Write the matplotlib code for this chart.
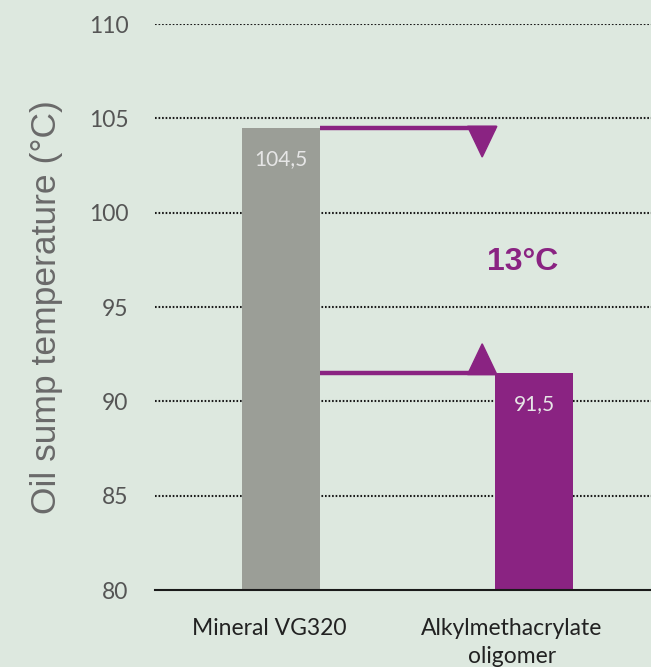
import matplotlib
matplotlib.use("Agg")
import matplotlib.pyplot as plt
from matplotlib.patches import Polygon
from matplotlib.transforms import ScaledTranslation

categories = ["Mineral VG320", "Alkylmethacrylate\noligomer"]
values = [104.5, 91.5]
value_labels = ["104,5", "91,5"]
yticks = [80, 85, 90, 95, 100, 105, 110]

bg = "#dde8df"
bar_colors = ["#9b9e97", "#8a2382"]
purple = "#8a2382"

fig = plt.figure(figsize=(6.51, 6.67), dpi=100, facecolor=bg)
ax = fig.add_axes([0.238, 0.1154, 0.762, 0.8486], facecolor=bg)

x = [0, 1]
bw = 0.31
ax.set_xlim(-0.498, 1.462)
ax.set_ylim(80, 110)

# dotted gridlines
for t in yticks[1:]:
    ax.axhline(t, color="#1a1a1a", lw=1.5, ls=(0, (0.8, 0.9)), zorder=1)

bars = ax.bar(x, [v - 80 for v in values], bottom=80, width=bw,
              color=bar_colors, zorder=2)

for xi, v, lab in zip(x, values, value_labels):
    ax.text(xi, v - 1.65, lab, ha="center", va="center", color="#e6e6e6",
            fontsize=15, family="Lato", zorder=4)

# bracket lines showing the temperature difference
x_start = x[0] + bw / 2
x_end = x[1] - bw / 2
tri_x = 0.795
tri_hw = 0.058
tri_h = 1.55
ax.plot([x_start, x_end + 0.005], [values[0], values[0]], color=purple, lw=3.2,
        solid_capstyle="butt", zorder=3)
ax.plot([x_start, x_end], [values[1], values[1]], color=purple, lw=3.2,
        solid_capstyle="butt", zorder=3)
ax.add_patch(Polygon([[tri_x - tri_hw, values[0] + 0.08], [tri_x + tri_hw, values[0] + 0.08],
                      [tri_x, values[0] - tri_h]], closed=True, color=purple, zorder=3))
ax.add_patch(Polygon([[tri_x - tri_hw, values[1] - 0.08], [tri_x + tri_hw, values[1] - 0.08],
                      [tri_x, values[1] + tri_h]], closed=True, color=purple, zorder=3))

diff = values[0] - values[1]
ax.text(0.955, 97.4, f"{diff:.0f}°C", ha="center", va="center", color=purple,
        fontsize=23, fontweight="bold", family="Liberation Sans")

for s in ["top", "right", "left"]:
    ax.spines[s].set_visible(False)
ax.spines["bottom"].set_color("#1a1a1a")
ax.spines["bottom"].set_linewidth(1.5)

ax.set_yticks(yticks)
ax.set_yticklabels([str(t) for t in yticks], family="Lato", fontsize=16.5, color="#555555")
ax.tick_params(axis="y", length=0, pad=19)
ax.set_xticks(x)
ax.set_xticklabels(categories, family="Lato", fontsize=16.5, color="#222222", linespacing=1.45)
ax.tick_params(axis="x", length=0, pad=20)

# nudge category labels slightly left of bar centres
for lab, dx in zip(ax.get_xticklabels(), [-0.12, -0.22]):
    lab.set_transform(lab.get_transform() + ScaledTranslation(dx, 0, fig.dpi_scale_trans))

ax.set_ylabel("Oil sump temperature (°C)", family="Liberation Sans", fontsize=25.5,
              color="#6a6a6a", labelpad=19)

fig.savefig("out.png", dpi=100, facecolor=bg)
